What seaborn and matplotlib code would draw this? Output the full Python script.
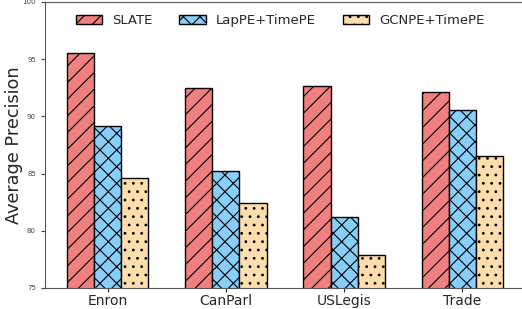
import pandas as pd
import matplotlib
matplotlib.use("Agg")
import matplotlib.pyplot as plt
import seaborn as sns

datasets = ["Enron", "CanParl", "USLegis", "Trade"]
methods = ["SLATE", "LapPE+TimePE", "GCNPE+TimePE"]
slate = [95.5, 92.5, 92.7, 92.1]
lappe = [89.2, 85.2, 81.2, 90.6]
gcnpe = [84.6, 82.4, 77.9, 86.5]

colors = ["#F08080", "#87CEFA", "#FFDEAD"]
hatches = ["//", "xx", ".."]


def build_frame():
    """long format table for seaborn"""
    rows = []
    for name, vals in zip(methods, [slate, lappe, gcnpe]):
        for d, v in zip(datasets, vals):
            rows.append({"dataset": d, "method": name, "ap": v})
    return pd.DataFrame(rows)


def plot(df: pd.DataFrame):
    sns.set_style("ticks")
    plt.rcParams["hatch.linewidth"] = 0.8
    fig = plt.figure(figsize=(5.22, 3.09), dpi=100)
    ax = fig.add_axes([45 / 522, 21 / 309, 480 / 522, 286 / 309])
    sns.barplot(data=df, x="dataset", y="ap", hue="method", order=datasets,
                hue_order=methods, palette=colors, width=0.69, saturation=1,
                edgecolor="black", linewidth=1, legend=False, ax=ax)
    for cont, h in zip(ax.containers, hatches):
        for bar in cont:
            bar.set_hatch(h)
    ax.set_ylim(75, 100)
    ax.set_xlim(-0.53, 3.53)
    ax.set_yticks([75, 80, 85, 90, 95, 100])
    ax.tick_params(axis="y", labelsize=5, colors="#444444", length=3)
    ax.tick_params(axis="x", labelsize=10, length=3, pad=1)
    ax.set_xlabel("")
    ax.set_ylabel("Average Precision", fontsize=12.7, va="center")
    ax.yaxis.set_label_coords(-0.065, 0.5)
    for s in ax.spines.values():
        s.set_color("#555555")
        s.set_linewidth(0.8)
    ax.legend(ax.containers, methods, loc="upper center", ncol=3,
              frameon=False, fontsize=9.5, bbox_to_anchor=(0.49, 1.0))
    fig.savefig("out.png", dpi=100)


if __name__ == "__main__":
    plot(build_frame())
